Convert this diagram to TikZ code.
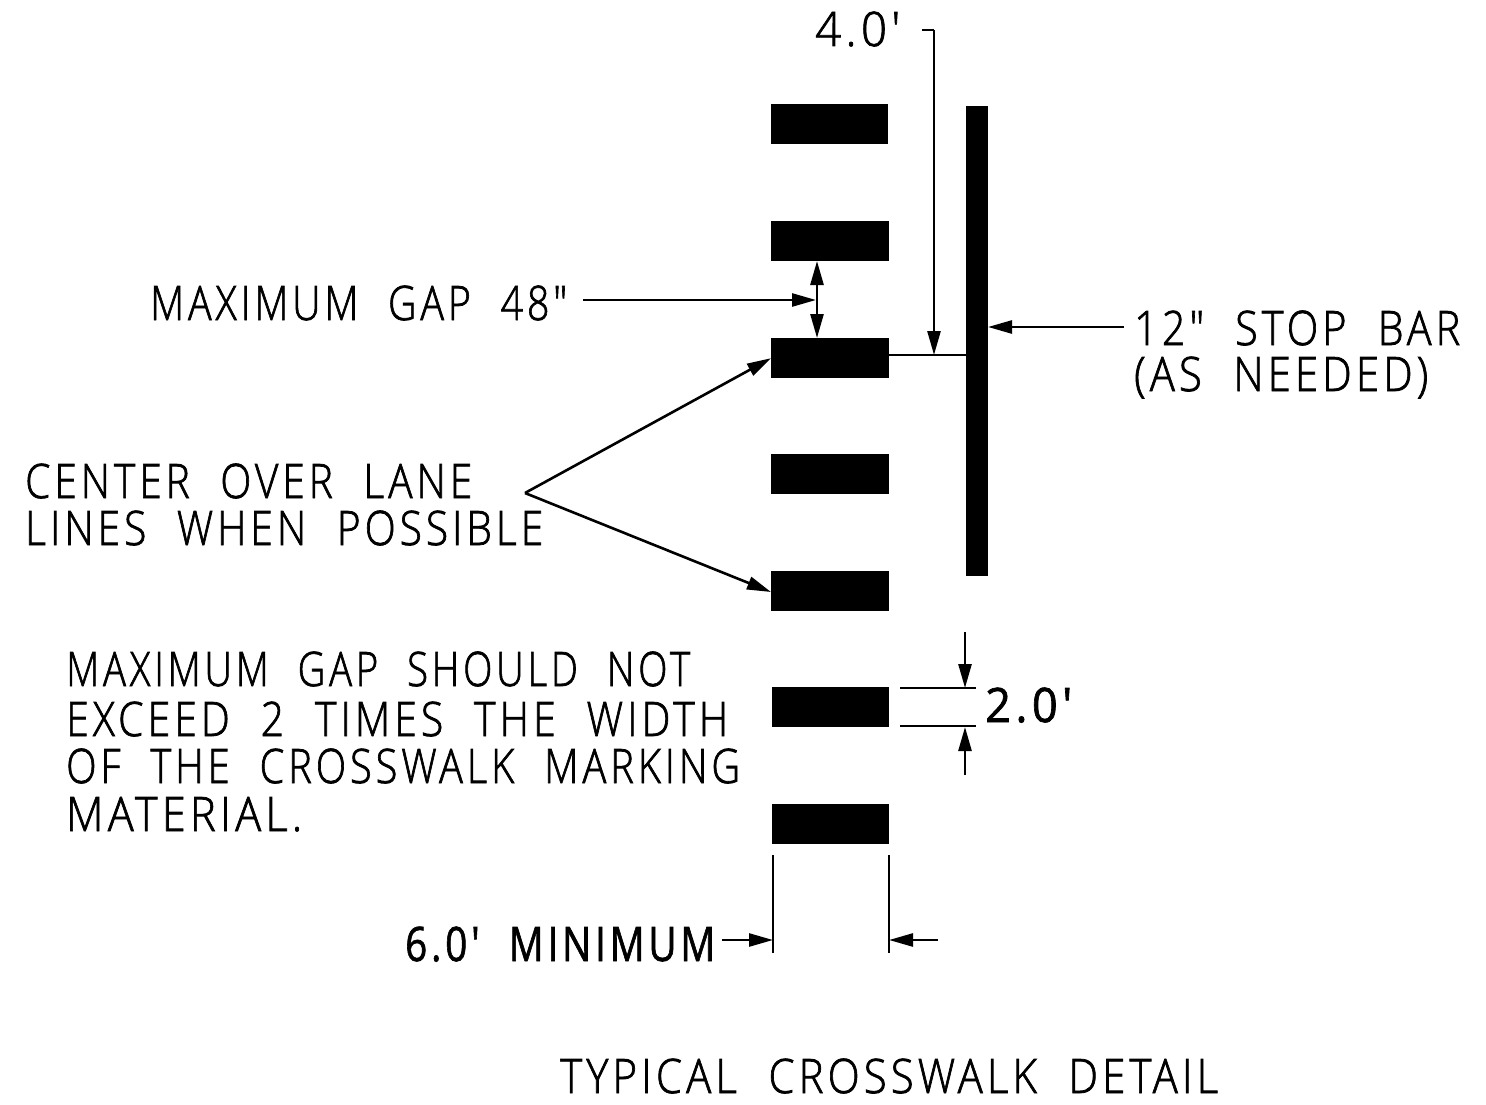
\documentclass[tikz,border=0pt]{standalone}
\usepackage{fontspec}
\usepackage{graphicx}
\newfontfamily\cad[LetterSpace=10,WordSpace=2.1,FakeBold=1.6]{Open Sans Light}
\newfontfamily\cadb[LetterSpace=10,WordSpace=2.1,FakeBold=1.5]{Open Sans}
\newcommand{\fitw}[2]{\resizebox{#1pt}{\height}{\fontsize{47.5}{47.5}\selectfont\cad #2}}
\newcommand{\fitb}[2]{\resizebox{#1pt}{\height}{\fontsize{47.5}{47.5}\selectfont\cadb #2}}
\usetikzlibrary{arrows.meta}
\tikzset{
  bar/.style={fill=black,draw=none,inner sep=0,anchor=north west},
  lbl/.style={anchor=base west,inner sep=0,text=black},
  ln/.style={line width=2.6pt,black},
  arr/.style={ln,-{Triangle[length=24pt,width=13pt]}},
  arrb/.style={ln,{Triangle[length=24pt,width=13pt]}-{Triangle[length=24pt,width=13pt]}}
}
\begin{document}
\begin{tikzpicture}[x=1pt,y=-1pt]
\useasboundingbox (0,0) rectangle (1486,1105);
\node[bar,minimum width=117pt,minimum height=40pt] (b1) at (771,103.5) {};
\node[bar,minimum width=118pt,minimum height=40pt] (b2) at (771,221) {};
\node[bar,minimum width=118pt,minimum height=40pt] (b3) at (771,338) {};
\node[bar,minimum width=118pt,minimum height=40pt] (b4) at (771,454) {};
\node[bar,minimum width=118pt,minimum height=40pt] (b5) at (771,570.5) {};
\node[bar,minimum width=117pt,minimum height=40pt] (b6) at (772,687) {};
\node[bar,minimum width=117pt,minimum height=40pt] (b7) at (772,803.5) {};
\node[bar,minimum width=22pt,minimum height=470pt] (stop) at (966,106) {};
\node[lbl] (t40) at (815,46) {\fitw{85}{4.0'}};
\node[lbl] (tgap) at (150,320) {\fitw{417}{MAXIMUM GAP 48"}};
\node[lbl] (tbar) at (1134,345) {\fitw{326}{12" STOP BAR}};
\node[lbl] (tneed) at (1134,391) {\fitw{294}{(AS NEEDED)}};
\node[lbl] (tc1) at (25,498) {\fitw{447}{CENTER OVER LANE}};
\node[lbl] (tc2) at (25,545) {\fitw{518}{LINES WHEN POSSIBLE}};
\node[lbl] (tm1) at (66,686) {\fitw{624}{MAXIMUM GAP SHOULD NOT}};
\node[lbl] (tm2) at (66,736) {\fitw{662}{EXCEED 2 TIMES THE WIDTH}};
\node[lbl] (tm3) at (66,783) {\fitw{674}{OF THE CROSSWALK MARKING}};
\node[lbl] (tm4) at (66,831) {\fitw{236}{MATERIAL.}};
\node[lbl] (t20) at (985,722) {\fitb{87}{2.0'}};
\node[lbl] (t60) at (405,961) {\fitb{310}{6.0' MINIMUM}};
\node[lbl] (ttitle) at (560,1093) {\fitw{658}{TYPICAL CROSSWALK DETAIL}};
\coordinate (c40a) at (922,30);
\coordinate (c40b) at (934,30);
\coordinate (c40c) at (934,355);
\coordinate (c3r) at (889,355);
\coordinate (csl) at (966,355);
\draw[ln] (c40a) -- (c40b);
\draw[arr] (c40b) -- (c40c);
\draw[ln] (c3r) -- (csl);
\coordinate (cgapa) at (583,300);
\coordinate (cgapb) at (816,300);
\draw[arr] (cgapa) -- (cgapb);
\coordinate (cv1) at (817,261);
\coordinate (cv2) at (817,338);
\draw[arrb] (cv1) -- (cv2);
\coordinate (cst) at (1124,327);
\coordinate (cste) at (988,327);
\draw[arr] (cst) -- (cste);
\coordinate (apex) at (525,493);
\draw[arr] (apex) -- (b3.west);
\draw[arr] (apex) -- (771,592);
\coordinate (t1a) at (900,688);\coordinate (t1b) at (976,688);
\coordinate (t2a) at (900,726);\coordinate (t2b) at (976,726);
\draw[ln] (t1a) -- (t1b);
\draw[ln] (t2a) -- (t2b);
\coordinate (d1) at (965,632);\coordinate (d1e) at (965,688);
\coordinate (d2) at (965,775);\coordinate (d2e) at (965,727);
\draw[arr] (d1) -- (d1e);
\draw[arr] (d2) -- (d2e);
\coordinate (v1a) at (773,855);\coordinate (v1b) at (773,953);
\coordinate (v2a) at (889,855);\coordinate (v2b) at (889,953);
\draw[ln] (v1a) -- (v1b);
\draw[ln] (v2a) -- (v2b);
\coordinate (w1) at (722,940);\coordinate (w1e) at (773,940);
\coordinate (w2) at (938,940);\coordinate (w2e) at (889,940);
\draw[arr] (w1) -- (w1e);
\draw[arr] (w2) -- (w2e);
\end{tikzpicture}
\end{document}
